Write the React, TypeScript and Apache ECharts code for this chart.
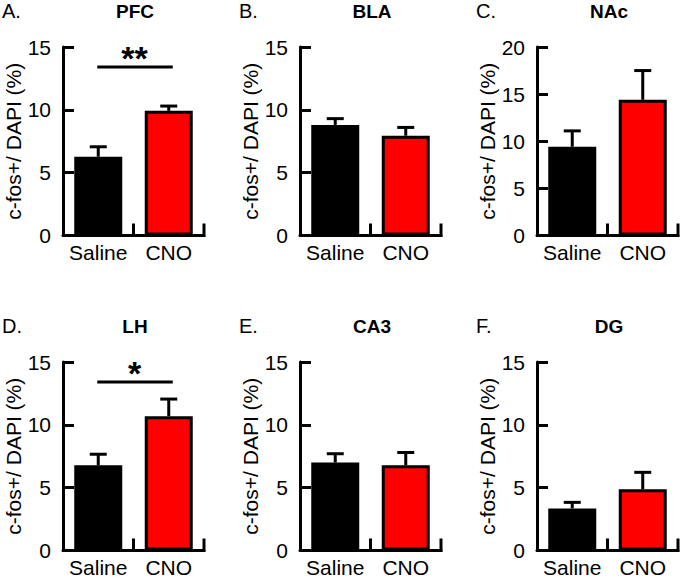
import React, { useEffect, useRef } from 'react';
import * as echarts from 'echarts';

const regions = ['PFC', 'BLA', 'NAc', 'LH', 'CA3', 'DG'];
const panelLetters = ['A.', 'B.', 'C.', 'D.', 'E.', 'F.'];
const groups = ['Saline', 'CNO'];
const salineMean = [6.27, 8.8, 9.42, 6.78, 7.0, 3.35];
const salineSem = [0.79, 0.5, 1.68, 0.88, 0.7, 0.48];
const cnoMean = [9.92, 7.94, 14.4, 10.69, 6.78, 4.87];
const cnoSem = [0.38, 0.66, 3.1, 1.36, 1.02, 1.35];
const yMax = [15, 15, 20, 15, 15, 15];
const yInterval = 5;
const sigMarks = ['**', '', '', '*', '', ''];
const sigLevel = [13.4, 0, 0, 13.4, 0, 0];
const yAxisName = 'c-fos+/ DAPI (%)';

const FONT = 'Liberation Sans, Arial, sans-serif';
const colLeft = [63, 300, 537];
const rowTop = [47, 362];
const gridW = 141;
const gridH = 188.5;

export default function App() {
  const ref = useRef<HTMLDivElement>(null);
  useEffect(() => {
    if (!ref.current) return;
    const chart = echarts.init(ref.current, null, { renderer: 'svg' });
    const grid: any[] = [];
    const xAxis: any[] = [];
    const yAxis: any[] = [];
    const series: any[] = [];
    const graphic: any[] = [];
    regions.forEach((name, k) => {
      const col = k % 3;
      const row = Math.floor(k / 3);
      const left = colLeft[col];
      const top = rowTop[row];
      grid.push({ left, top, width: gridW, height: gridH, containLabel: false });
      xAxis.push({
        type: 'category',
        gridIndex: k,
        data: groups,
        boundaryGap: true,
        axisLine: { show: true, onZero: false, lineStyle: { color: '#000', width: 3 } },
        axisTick: { show: false },
        axisLabel: { color: '#000', fontSize: 21, fontFamily: FONT, margin: 6, interval: 0 },
        splitLine: { show: false },
      });
      yAxis.push({
        type: 'value',
        gridIndex: k,
        min: 0,
        max: yMax[k],
        interval: yInterval,
        name: yAxisName,
        nameLocation: 'middle',
        nameGap: 37,
        nameTextStyle: { color: '#000', fontSize: 21, fontFamily: FONT },
        axisLine: { show: true, lineStyle: { color: '#000', width: 3 } },
        axisTick: { show: true, inside: true, length: 11, lineStyle: { color: '#000', width: 3 } },
        axisLabel: { color: '#000', fontSize: 21, fontFamily: FONT, margin: 12 },
        splitLine: { show: false },
      });
      series.push({
        type: 'bar',
        xAxisIndex: k,
        yAxisIndex: k,
        barWidth: 48,
        data: [
          { value: salineMean[k], itemStyle: { color: '#000000', borderColor: '#000', borderWidth: 3 } },
          { value: cnoMean[k], itemStyle: { color: '#ff0000', borderColor: '#000', borderWidth: 3 } },
        ],
        z: 2,
      });
      // error bars (upper whisker with cap) plus the upward category-boundary tick to the right of each bar
      series.push({
        type: 'custom',
        xAxisIndex: k,
        yAxisIndex: k,
        z: 10,
        clip: false,
        data: [
          [0, salineMean[k], salineMean[k] + salineSem[k]],
          [1, cnoMean[k], cnoMean[k] + cnoSem[k]],
        ],
        encode: { x: 0, y: [1, 2] },
        renderItem: (params: any, api: any) => {
          const i = api.value(0);
          const m = api.value(1);
          const t = api.value(2);
          const p0 = api.coord([i, m]);
          const p1 = api.coord([i, t]);
          const base = api.coord([i, 0]);
          const band = api.size([1, 0])[0];
          const bx = base[0] + band / 2;
          return {
            type: 'group',
            children: [
              { type: 'line', shape: { x1: p0[0], y1: p0[1], x2: p1[0], y2: p1[1] }, style: { stroke: '#000', lineWidth: 3 } },
              { type: 'line', shape: { x1: p1[0] - 8.5, y1: p1[1], x2: p1[0] + 8.5, y2: p1[1] }, style: { stroke: '#000', lineWidth: 3 } },
              { type: 'rect', shape: { x: bx - 1.5, y: base[1] - 12, width: 3, height: 13.5 }, style: { fill: '#000' } },
            ],
          };
        },
      });
      if (sigMarks[k]) {
        const mark = sigMarks[k];
        series.push({
          type: 'custom',
          xAxisIndex: k,
          yAxisIndex: k,
          z: 6,
          clip: false,
          data: [[0, 1, sigLevel[k]]],
          encode: { x: [0, 1], y: 2 },
          renderItem: (params: any, api: any) => {
            const a = api.coord([api.value(0), api.value(2)]);
            const b = api.coord([api.value(1), api.value(2)]);
            return {
              type: 'group',
              children: [
                { type: 'line', shape: { x1: a[0] - 1, y1: a[1], x2: b[0] + 4, y2: b[1] }, style: { stroke: '#000', lineWidth: 3 } },
                {
                  type: 'text',
                  x: (a[0] + b[0]) / 2 + 1,
                  y: a[1] - 9,
                  style: { text: mark, fill: '#000', font: `bold 34px ${FONT}`, textAlign: 'center', textVerticalAlign: 'middle' },
                },
              ],
            };
          },
        });
      }
      graphic.push({
        type: 'text',
        x: left + 72,
        y: top - 36,
        style: { text: name, fill: '#000', font: `bold 19px ${FONT}`, textAlign: 'center', textVerticalAlign: 'middle' },
      });
      graphic.push({
        type: 'text',
        x: left - 61,
        y: top - 36,
        style: { text: panelLetters[k], fill: '#000', font: `20px ${FONT}`, textAlign: 'left', textVerticalAlign: 'middle' },
      });
    });
    chart.setOption({
      animation: false,
      backgroundColor: '#ffffff',
      grid,
      xAxis,
      yAxis,
      series,
      graphic,
    });
    return () => chart.dispose();
  }, []);
  return <div ref={ref} style={{ position: 'fixed', left: 0, top: 0, width: 685, height: 578 }} />;
}
